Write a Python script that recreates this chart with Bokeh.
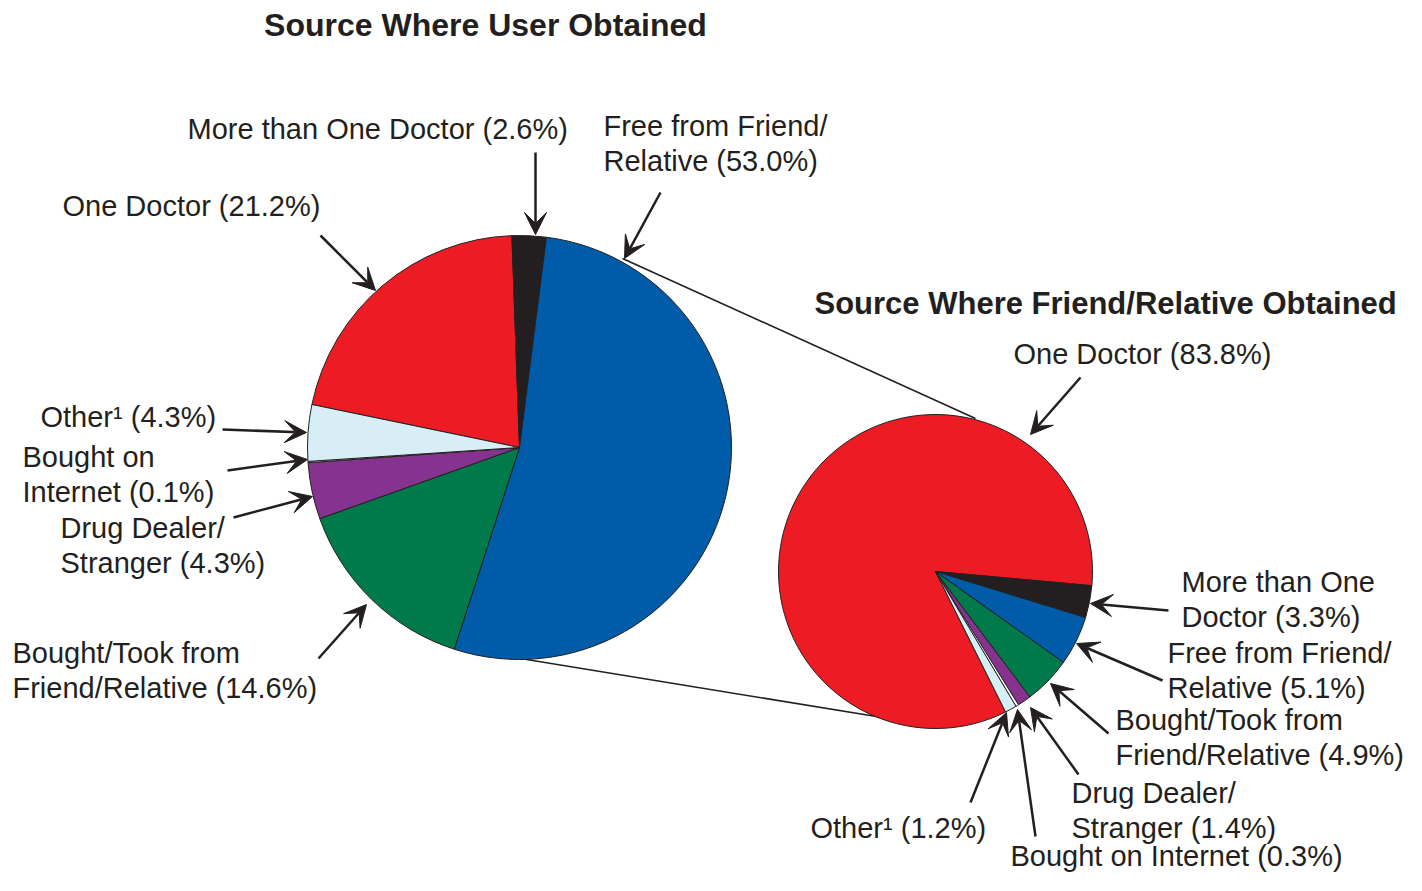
import math
from bokeh.plotting import figure
from bokeh.models import Range1d, ColumnDataSource, Arrow, VeeHead
from bokeh.core.properties import value
from bokeh.embed import file_html
from bokeh.resources import INLINE

# ---------------- data ----------------
categories = ["One Doctor", "More than One Doctor", "Free from Friend/Relative",
              "Bought/Took from Friend/Relative", "Drug Dealer/Stranger",
              "Bought on Internet", "Other\u00b9"]
user_pct = [21.2, 2.6, 53.0, 14.6, 4.3, 0.1, 4.3]
friend_pct = [83.8, 3.3, 5.1, 4.9, 1.4, 0.3, 1.2]
colors = ["#ed1c24", "#231f20", "#005ba9", "#007a4b", "#86338f", "#ffffff", "#d8eef6"]

user_title = "Source Where User Obtained"
friend_title = "Source Where Friend/Relative Obtained"

# label line breaks (text only)
user_label_lines = [
    ["One Doctor (21.2%)"],
    ["More than One Doctor (2.6%)"],
    ["Free from Friend/", "Relative (53.0%)"],
    ["Bought/Took from", "Friend/Relative (14.6%)"],
    ["Drug Dealer/", "Stranger (4.3%)"],
    ["Bought on", "Internet (0.1%)"],
    ["Other\u00b9 (4.3%)"],
]
friend_label_lines = [
    ["One Doctor (83.8%)"],
    ["More than One", "Doctor (3.3%)"],
    ["Free from Friend/", "Relative (5.1%)"],
    ["Bought/Took from", "Friend/Relative (4.9%)"],
    ["Drug Dealer/", "Stranger (1.4%)"],
    ["Bought on Internet (0.3%)"],
    ["Other\u00b9 (1.2%)"],
]

# ---------------- layout (pixel positions) ----------------
W, H = 1406, 875
TOP = 891
def Y(yp):
    return TOP - yp

LEFT = dict(cx=519, cy=447, r=212, start=-78.3)     # start: clockwise deg from top
RIGHT = dict(cx=935, cy=571, r=157, start=-206.5)

# label first-line positions (left x, center y)
user_label_pos = [(62, 205), (187, 128), (603, 125), (12, 652), (60, 527), (22, 456), (40, 416)]
friend_label_pos = [(1013, 353), (1181, 581), (1167, 652), (1115, 719), (1071, 792), (1010, 855), (810, 827)]
LINE_GAP = 35

# arrows (tail x, tail y, head x, head y)
user_arrows = [(320, 235, 375, 290), (535, 152, 535, 234), (660, 192, 624, 258),
               (318, 658, 366, 604), (233, 517, 312, 496), (227, 470, 307, 459),
               (222, 429, 306, 432)]
friend_arrows = [(1080, 377, 1030, 434), (1168, 610, 1090, 603), (1162, 680, 1076, 643),
                 (1108, 733, 1050, 683), (1078, 774, 1030, 707), (1035, 836, 1017, 709),
                 (970, 802, 1006, 712)]

connectors = [((622, 258), (975, 418)), ((520, 658), (882, 717))]

TEXT_COLOR = "#231f20"
FONT = "Liberation Sans"

p = figure(width=W, height=H, x_range=Range1d(0, W), y_range=Range1d(TOP - H, TOP),
           output_backend="svg", toolbar_location=None, min_border=0)
p.axis.visible = False
p.grid.visible = False
p.outline_line_color = None
p.background_fill_color = "white"
p.border_fill_color = "white"

# connectors (behind pies)
for (a, b) in connectors:
    p.line([a[0], b[0]], [Y(a[1]), Y(b[1])], line_color=TEXT_COLOR, line_width=1.6)


def draw_pie(vals, geo):
    total = float(sum(vals))
    starts, ends = [], []
    theta = geo["start"]
    for v in vals:
        t2 = theta + 360.0 * v / total
        # clockwise-from-top -> math angle
        starts.append(math.radians(90 - t2))
        ends.append(math.radians(90 - theta))
        theta = t2
    src = ColumnDataSource(dict(x=[geo["cx"]] * len(vals), y=[Y(geo["cy"])] * len(vals),
                                s=starts, e=ends, c=colors))
    p.wedge(x="x", y="y", radius=geo["r"], start_angle="s", end_angle="e",
            fill_color="c", line_color=TEXT_COLOR, line_width=1.0, source=src)


draw_pie(user_pct, LEFT)
draw_pie(friend_pct, RIGHT)


def draw_labels(lines_list, pos_list):
    xs, ys, ts = [], [], []
    for lines, (lx, ly) in zip(lines_list, pos_list):
        for i, t in enumerate(lines):
            xs.append(lx)
            ys.append(Y(ly + i * LINE_GAP))
            ts.append(t)
    p.text(x=xs, y=ys, text=ts, text_font=value(FONT), text_font_size="29px",
           text_color=TEXT_COLOR, text_align="left", text_baseline="middle")


draw_labels(user_label_lines, user_label_pos)
draw_labels(friend_label_lines, friend_label_pos)

p.text(x=[485], y=[Y(24)], text=[user_title],
       text_font=value(FONT), text_font_size="32px", text_font_style="bold",
       text_color=TEXT_COLOR, text_align="center", text_baseline="middle")
p.text(x=[814], y=[Y(303)], text=[friend_title],
       text_font=value(FONT), text_font_size="31px", text_font_style="bold",
       text_color=TEXT_COLOR, text_align="left", text_baseline="middle")

for arr in user_arrows + friend_arrows:
    tx, ty, hx, hy = arr
    p.add_layout(Arrow(x_start=tx, y_start=Y(ty), x_end=hx, y_end=Y(hy),
                       line_color=TEXT_COLOR, line_width=2.5,
                       end=VeeHead(size=22, fill_color=TEXT_COLOR, line_color=TEXT_COLOR,
                                   line_width=1)))

open("out.html", "w").write(file_html(p, INLINE))
